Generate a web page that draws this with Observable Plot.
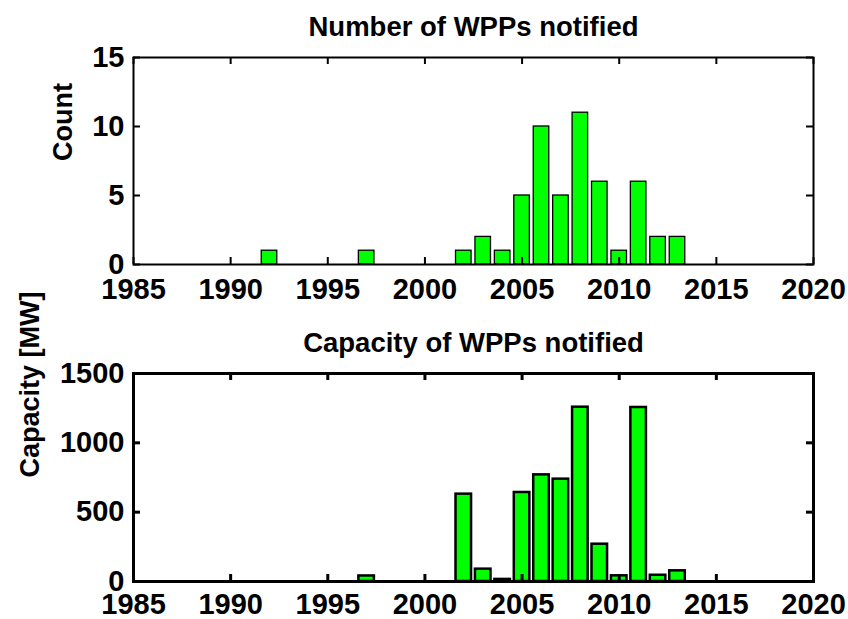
<!DOCTYPE html>
<html>
<head>
<meta charset="utf-8">
<script src="https://cdn.jsdelivr.net/npm/d3@7"></script>
<script src="https://cdn.jsdelivr.net/npm/@observablehq/plot@0.6"></script>
<style>
  html, body { margin: 0; padding: 0; background: white; }
  #chart { width: 848px; height: 619px; overflow: hidden; }
  #chart svg { display: block; }
</style>
</head>
<body>
<div id="chart"></div>
<script>
// ---- data ----
const countYears = [1992, 1997, 2002, 2003, 2004, 2005, 2006, 2007, 2008, 2009, 2010, 2011, 2012, 2013];
const countValues = [1, 1, 1, 2, 1, 5, 10, 5, 11, 6, 1, 6, 2, 2];
const capYears = [1997, 2002, 2003, 2004, 2005, 2006, 2007, 2008, 2009, 2010, 2011, 2012, 2013];
const capValues = [40, 630, 89, 15, 642, 769, 738, 1257, 269, 41, 1255, 45, 77];
const xTicks = [1985, 1990, 1995, 2000, 2005, 2010, 2015, 2020];
const countTicks = [0, 5, 10, 15];
const capTicks = [0, 500, 1000, 1500];
const titles = ["Number of WPPs notified", "Capacity of WPPs notified"];
const yLabels = ["Count", "Capacity [MW]"];

const W = 848, ML = 133, MR = 35;
const font = "'Liberation Sans', Arial, Helvetica, sans-serif";

function panel({years, values, yTicks, title, ylabel, labelX, height, mt, mb, lw, barLw, yDomain, pad}) {
  const data = years.map((y, i) => ({year: y, value: values[i]}));
  const fw = W - ML - MR, fh = height - mt - mb, tl = 7;
  return Plot.plot({
    width: W, height,
    marginLeft: ML, marginRight: MR, marginTop: mt, marginBottom: mb,
    style: {fontFamily: font, fontSize: "28px", fontWeight: "bold", color: "black", background: "white", overflow: "visible"},
    x: {domain: [1985, 2020]},
    y: {domain: yDomain},
    marks: [
      Plot.rectY(data, {x1: d => d.year - 0.4, x2: d => d.year + 0.4, y: "value", fill: "#00ff00", stroke: "black", strokeWidth: barLw}),
      // inward ticks: bottom, top, left, right
      Plot.tickX(xTicks, {x: d => d, insetTop: fh - tl, stroke: "black", strokeWidth: lw}),
      Plot.tickX(xTicks, {x: d => d, insetBottom: fh - tl, stroke: "black", strokeWidth: lw}),
      Plot.tickY(yTicks, {y: d => d, insetRight: fw - tl, stroke: "black", strokeWidth: lw}),
      Plot.tickY(yTicks, {y: d => d, insetLeft: fw - tl, stroke: "black", strokeWidth: lw}),
      Plot.frame({stroke: "black", strokeWidth: lw}),
      Plot.axisX(xTicks, {tickSize: 0, tickPadding: pad, label: null, tickFormat: d => String(d), fontSize: 29}),
      Plot.axisY(yTicks, {tickSize: 0, tickPadding: 9, label: null, tickFormat: d => String(d), fontSize: 29}),
      Plot.text([title], {frameAnchor: "top", lineAnchor: "bottom", dy: -22, fontSize: 27.5, fill: "black"}),
      Plot.text([ylabel], {frameAnchor: "left", rotate: -90, lineAnchor: "middle", dx: -(ML - labelX), fontSize: 27, fill: "black"})
    ]
  });
}

const chart = document.getElementById("chart");
chart.append(panel({years: countYears, values: countValues, yTicks: countTicks, title: titles[0], ylabel: yLabels[0], labelX: 62.5,
  height: 310, mt: 57, mb: 46, lw: 2, barLw: 1.3, yDomain: [0, 15], pad: 14}));
chart.append(panel({years: capYears, values: capValues, yTicks: capTicks, title: titles[1], ylabel: yLabels[1], labelX: 30,
  height: 309, mt: 63, mb: 38, lw: 3, barLw: 2.5, yDomain: [0, 1500], pad: 12}));
</script>
</body>
</html>
